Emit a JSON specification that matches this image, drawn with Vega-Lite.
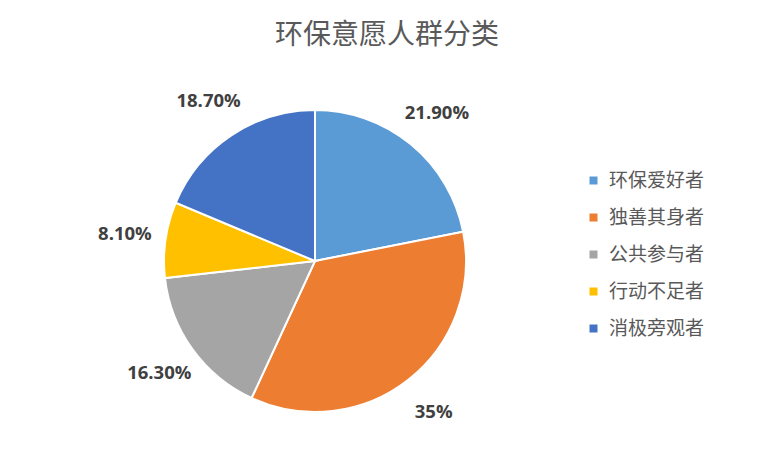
{
  "$schema": "https://vega.github.io/schema/vega-lite/v6.json",
  "autosize": "none",
  "width": 630,
  "height": 402,
  "padding": {"left": 0, "top": 60, "right": 143, "bottom": 1},
  "background": "white",
  "title": {
    "text": "环保意愿人群分类",
    "font": "Noto Sans CJK SC",
    "fontSize": 28,
    "fontWeight": "normal",
    "color": "#595959",
    "anchor": "middle",
    "dx": 72,
    "offset": 10
  },
  "config": {"view": {"stroke": null}},
  "data": {
    "values": [
      {"group": "环保爱好者", "share": 21.9, "label": "21.90%", "idx": 1},
      {"group": "独善其身者", "share": 35.0, "label": "35%", "idx": 2},
      {"group": "公共参与者", "share": 16.3, "label": "16.30%", "idx": 3},
      {"group": "行动不足者", "share": 8.1, "label": "8.10%", "idx": 4},
      {"group": "消极旁观者", "share": 18.7, "label": "18.70%", "idx": 5}
    ]
  },
  "encoding": {
    "theta": {"field": "share", "type": "quantitative", "stack": true},
    "order": {"field": "idx", "type": "quantitative"},
    "color": {
      "field": "group",
      "type": "nominal",
      "scale": {
        "domain": ["环保爱好者", "独善其身者", "公共参与者", "行动不足者", "消极旁观者"],
        "range": ["#5B9BD5", "#ED7D31", "#A5A5A5", "#FFC000", "#4472C4"]
      },
      "legend": {
        "title": null,
        "orient": "none",
        "legendX": 584,
        "legendY": 111,
        "symbolType": "square",
        "symbolSize": 64,
        "symbolStrokeWidth": 0,
        "labelFont": "Noto Sans CJK SC",
        "labelFontSize": 19,
        "labelColor": "#595959",
        "labelOffset": 6,
        "rowPadding": 17
      }
    }
  },
  "layer": [
    {
      "mark": {"type": "arc", "outerRadius": 151, "stroke": "white", "strokeWidth": 2}
    },
    {
      "mark": {"type": "text", "radius": 192, "font": "Open Sans", "fontSize": 18.5, "fontWeight": "bold"},
      "encoding": {
        "text": {"field": "label", "type": "nominal"},
        "color": {"value": "#404040"}
      }
    }
  ]
}
